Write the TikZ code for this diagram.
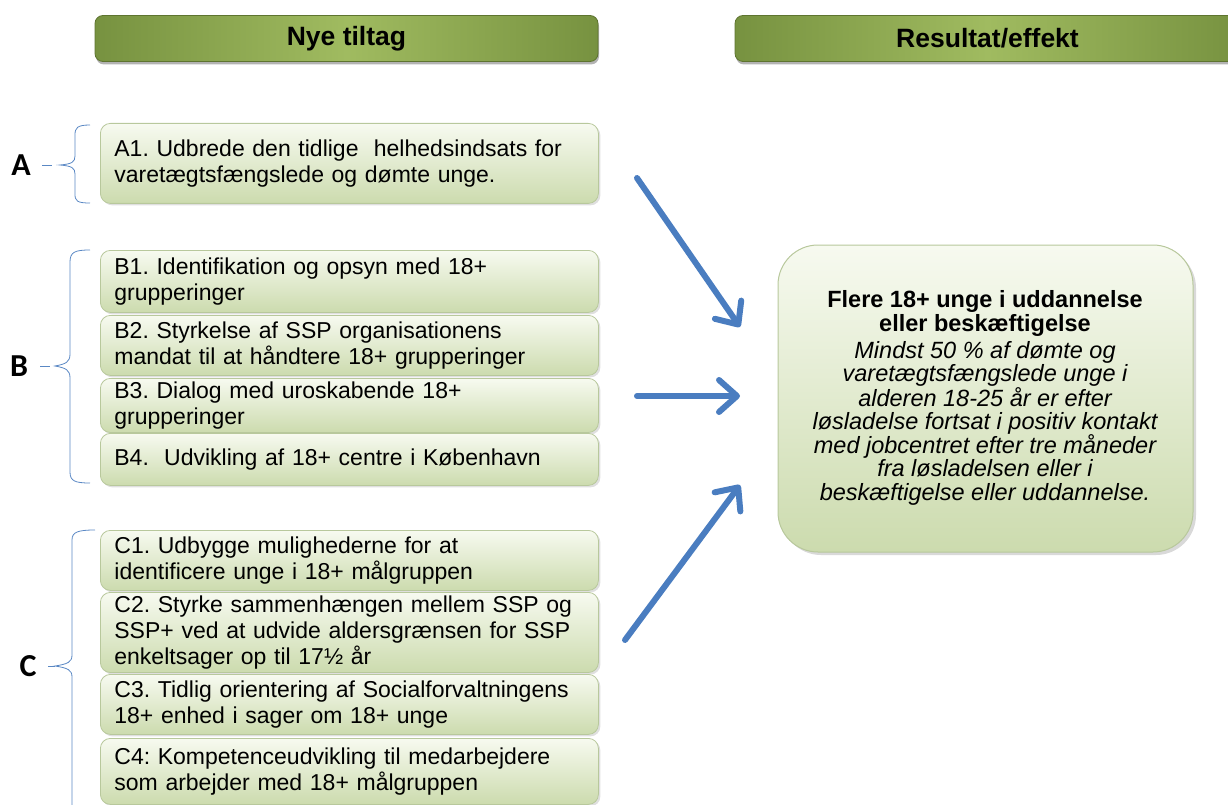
\documentclass[tikz,border=0pt]{standalone}
\usepackage{fontspec}
\setmainfont{Liberation Sans}
\newfontfamily\lblfont{Carlito}
\usetikzlibrary{arrows.meta,shadows}
\definecolor{hdedge}{HTML}{779240}
\definecolor{hdmid}{HTML}{A0BB60}
\definecolor{hdline}{HTML}{5E7430}
\definecolor{bxtop}{HTML}{F7FAF0}
\definecolor{bxbot}{HTML}{CCDBAE}
\definecolor{bxline}{HTML}{B8C89C}
\definecolor{arrowblue}{HTML}{4A7DC0}
\definecolor{bracecol}{HTML}{5A88C4}
\begin{document}
\frenchspacing
\begin{tikzpicture}[x=1pt,y=-1pt,
  header/.style={rounded corners=8pt, draw=hdline, line width=0.8pt,
    left color=hdedge, right color=hdedge, middle color=hdmid,
    drop shadow={shadow xshift=1pt, shadow yshift=-3pt, opacity=0.6},
    font=\fontsize{26.5}{30}\selectfont\bfseries, text=black},
  item/.style={rounded corners=10pt, draw=bxline, line width=0.8pt,
    top color=bxtop, bottom color=bxbot, anchor=north west,
    minimum width=498pt, text width=470pt, align=left, inner xsep=14pt,
    drop shadow={shadow xshift=2pt, shadow yshift=-2pt, opacity=0.25},
    font=\fontsize{23}{26}\selectfont},
  result/.style={rounded corners=40pt, draw=bxline, line width=1pt,
    top color=bxtop, bottom color=bxbot,
    drop shadow={shadow xshift=3pt, shadow yshift=-3pt, opacity=0.3}},
  grp/.style={font=\lblfont\fontsize{32}{36}\selectfont\bfseries},
  brace/.style={draw=bracecol, line width=0.8pt},
  bigarrow/.style={draw=arrowblue, line width=6pt, line cap=round,
    -{Straight Barb[length=18pt, width=32pt, line width=6pt, round]}}
]
\useasboundingbox (0,0) rectangle (1228,805);
% headers
\node[header, minimum width=503pt, minimum height=46pt] (h1) at (346.5,38.5) {Nye tiltag};
\node[header, minimum width=505pt, minimum height=46pt] (h2) at (987.5,38.5) {Resultat/effekt};
% A
\node[item, minimum height=80pt] (a1) at (100,123) {A1. Udbrede den tidlige \ helhedsindsats for\\varetægtsfængslede og dømte unge.};
% B
\node[item, minimum height=62pt] (b1) at (100,250) {B1. Identifikation og opsyn med 18+\\grupperinger};
\node[item, minimum height=60pt] (b2) at (100,315) {B2. Styrkelse af SSP organisationens\\mandat til at håndtere 18+ grupperinger};
\node[item, minimum height=52pt] (b3) at (100,378) {B3. Dialog med uroskabende 18+\\grupperinger};
\node[item, minimum height=52pt] (b4) at (100,433) {B4. \ Udvikling af 18+ centre i København};
% C
\node[item, minimum height=60pt] (c1) at (100,530) {C1. Udbygge mulighederne for at\\identificere unge i 18+ målgruppen};
\node[item, minimum height=80pt] (c2) at (100,592) {C2. Styrke sammenhængen mellem SSP og\\SSP+ ved at udvide aldersgrænsen for SSP\\enkeltsager op til 17½ år};
\node[item, minimum height=60pt] (c3) at (100,674) {C3. Tidlig orientering af Socialforvaltningens\\18+ enhed i sager om 18+ unge};
\node[item, minimum height=66pt] (c4) at (100,738) {C4: Kompetenceudvikling til medarbejdere\\som arbejder med 18+ målgruppen};
% result
\node[result, minimum width=415pt, minimum height=307pt] (res) at (985.5,398.5) {};
\node[align=center, font=\fontsize{23.5}{23}\selectfont] (restxt) at (985,398)
  {{\bfseries Flere 18+ unge i uddannelse}\\[1pt]{\bfseries eller beskæftigelse}\\[4pt]
   \itshape Mindst 50 \% af dømte og\\\itshape varetægtsfængslede unge i\\\itshape alderen 18-25 år er efter\\\itshape løsladelse fortsat i positiv kontakt\\\itshape med jobcentret efter tre måneder\\\itshape fra løsladelsen eller i\\[1pt]\itshape beskæftigelse eller uddannelse.};
% group labels
\node[grp] (la) at (21,165) {A};
\node[grp] (lb) at (19,366) {B};
\node[grp] (lc) at (28,666) {C};
% braces
\draw[brace] (90,125) .. controls (77,125) and (75,128) .. (75,135) -- (75,156)
  .. controls (75,162) and (72,164) .. (60,165)
  .. controls (72,166) and (75,168) .. (75,174) -- (75,194)
  .. controls (75,201) and (77,203) .. (90,203);
\draw[brace] (90,250) .. controls (75,250) and (70,252) .. (70,262) -- (70,354)
  .. controls (70,362) and (66,364) .. (55,366)
  .. controls (66,368) and (70,370) .. (70,378) -- (70,472)
  .. controls (70,481) and (75,483) .. (90,483);
\draw[brace] (95,530) .. controls (78,530) and (72,532) .. (72,540) -- (72,655)
  .. controls (72,662) and (68,664) .. (55,666)
  .. controls (68,668) and (72,670) .. (72,677) -- (72,805);
\draw[brace] (42,165) -- (52,165);
\draw[brace] (40,366) -- (50,366);
\draw[brace] (48,666) -- (55,666);
% arrows
\coordinate (s1) at (637,178);
\coordinate (e1) at (740,327);
\coordinate (s2) at (637,396);
\coordinate (e2) at (740,396);
\coordinate (s3) at (625,640);
\coordinate (e3) at (740,485);
\draw[bigarrow] (s1) -- (e1);
\draw[bigarrow] (s2) -- (e2);
\draw[bigarrow] (s3) -- (e3);
\end{tikzpicture}
\end{document}
